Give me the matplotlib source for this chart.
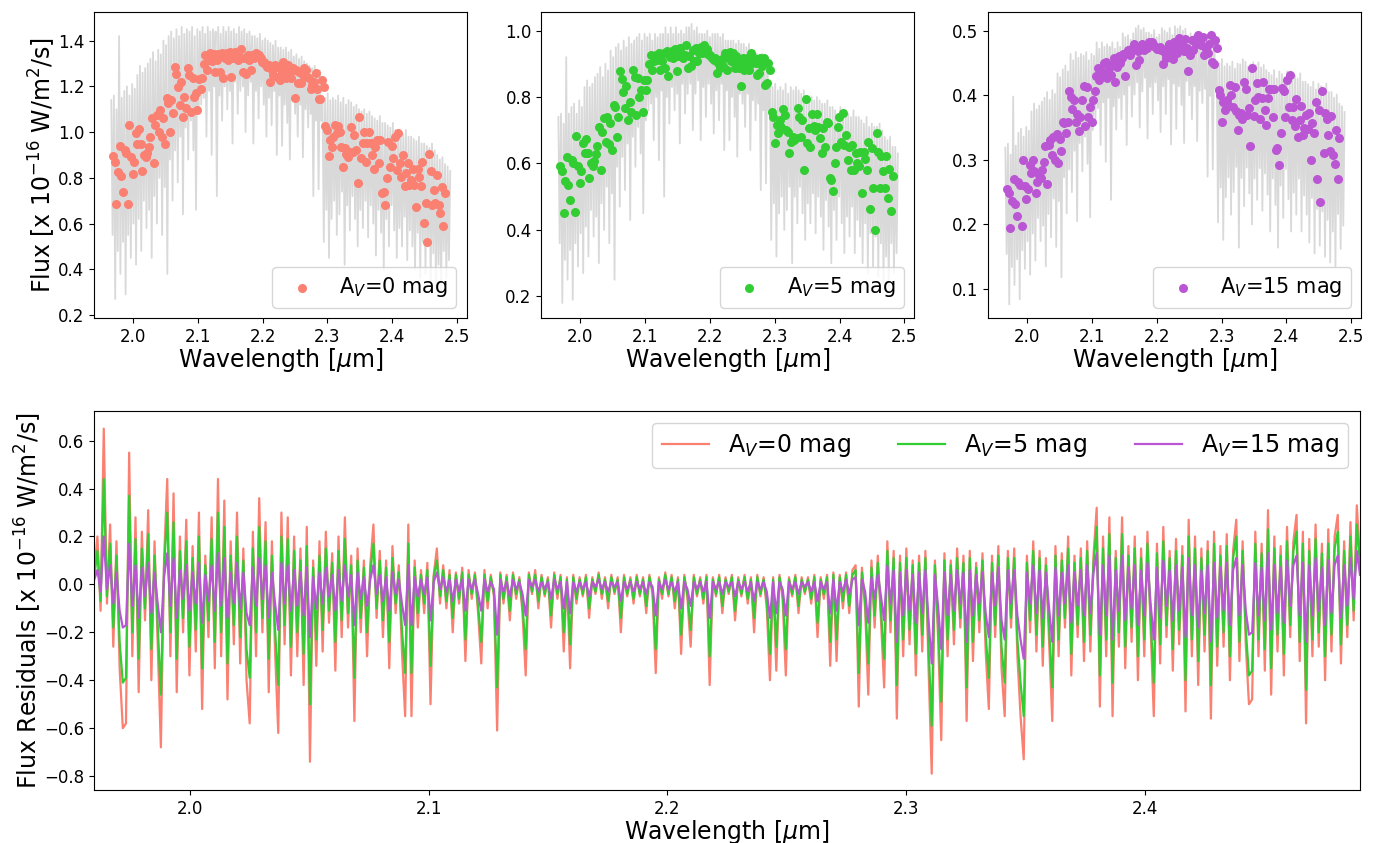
import numpy as np
import matplotlib
matplotlib.use("Agg")
import matplotlib.pyplot as plt

# colours of the three extinction cases
c0, c5, c15 = "salmon", "limegreen", "mediumorchid"
labels = ["A$_V$=0 mag", "A$_V$=5 mag", "A$_V$=15 mag"]

# ---- binned fluxes (points), one value per wavelength bin ----
flux0 = [0.897, 0.871, 0.684, 0.827, 0.94, 0.808, 0.74, 0.92, 0.91, 0.684,
         1.03, 0.89, 0.815, 0.868, 0.995, 0.948, 1.012, 0.948, 0.83, 0.90,
         0.893, 0.907, 0.936, 0.977, 1.06, 0.863, 1.031, 1.075, 1.002, 1.097,
         0.98, 1.06, 0.948, 1.148, 1.126, 0.999, 1.14, 1.082, 1.286, 1.254,
         1.196, 1.119, 1.22, 1.068, 1.155, 1.104, 1.279, 1.25, 1.089, 1.235,
         1.155, 1.17, 1.097, 1.231, 1.19, 1.235, 1.30, 1.337, 1.272, 1.315,
         1.345, 1.313, 1.342, 1.264, 1.315, 1.342, 1.264, 1.348, 1.235, 1.322,
         1.348, 1.315, 1.352, 1.24, 1.322, 1.352, 1.337, 1.315, 1.33, 1.362,
         1.264, 1.322, 1.254, 1.337, 1.315, 1.272, 1.337, 1.322, 1.345, 1.33,
         1.337, 1.322, 1.308, 1.308, 1.298, 1.286, 1.294, 1.22, 1.272, 1.25,
         1.294, 1.24, 1.286, 1.228, 1.264, 1.308, 1.272, 1.235, 1.294, 1.264,
         1.235, 1.279, 1.148, 1.272, 1.213, 1.264, 1.213, 1.25, 1.279, 1.272,
         1.24, 1.235, 1.19, 1.206, 1.22, 1.257, 1.19, 1.143, 1.143, 1.228,
         1.196, 1.027, 1.009, 0.897, 0.966, 0.936, 0.98, 1.031, 0.995, 1.027,
         1.002, 0.936, 0.849, 0.929, 0.904, 0.893, 0.914, 1.024, 0.914, 0.987,
         0.92, 0.776, 1.065, 0.885, 0.951, 1.002, 0.871, 0.951, 1.002, 0.951,
         0.90, 0.837, 0.936, 0.966, 0.863, 0.966, 0.735, 0.74, 0.681, 0.80,
         0.958, 0.849, 0.939, 0.885, 0.98, 0.834, 0.995, 0.863, 0.805, 0.90,
         0.764, 0.82, 0.863, 0.768, 0.79, 0.837, 0.768, 0.674, 0.837, 0.805,
         0.764, 0.871, 0.604, 0.691, 0.52, 0.904, 0.828, 0.681, 0.747, 0.688,
         0.812, 0.681, 0.645, 0.761, 0.589, 0.732]

flux5 = [0.591, 0.576, 0.451, 0.546, 0.621, 0.536, 0.491, 0.611, 0.601, 0.453,
         0.683, 0.591, 0.541, 0.576, 0.661, 0.631, 0.673, 0.631, 0.556, 0.601,
         0.591, 0.608, 0.629, 0.654, 0.711, 0.579, 0.696, 0.736, 0.666, 0.741,
         0.659, 0.721, 0.641, 0.776, 0.771, 0.679, 0.739, 0.877, 0.854, 0.814,
         0.766, 0.834, 0.731, 0.786, 0.756, 0.88, 0.86, 0.746, 0.857, 0.80,
         0.822, 0.756, 0.852, 0.822, 0.85, 0.90, 0.927, 0.88, 0.907, 0.927,
         0.912, 0.932, 0.88, 0.907, 0.934, 0.887, 0.94, 0.862, 0.92, 0.94,
         0.917, 0.944, 0.877, 0.924, 0.947, 0.932, 0.917, 0.927, 0.957, 0.887,
         0.922, 0.892, 0.942, 0.907, 0.947, 0.907, 0.932, 0.95, 0.932, 0.957,
         0.932, 0.944, 0.927, 0.927, 0.917, 0.912, 0.917, 0.872, 0.902, 0.887,
         0.914, 0.892, 0.932, 0.882, 0.917, 0.937, 0.907, 0.932, 0.887, 0.922,
         0.907, 0.887, 0.834, 0.917, 0.88, 0.90, 0.917, 0.882, 0.932, 0.902,
         0.917, 0.902, 0.867, 0.872, 0.917, 0.892, 0.917, 0.837, 0.842, 0.902,
         0.88, 0.756, 0.739, 0.661, 0.716, 0.691, 0.731, 0.711, 0.763, 0.746,
         0.701, 0.696, 0.631, 0.666, 0.681, 0.671, 0.676, 0.766, 0.739, 0.681,
         0.731, 0.579, 0.793, 0.663, 0.706, 0.651, 0.749, 0.713, 0.701, 0.749,
         0.711, 0.676, 0.631, 0.706, 0.651, 0.726, 0.723, 0.556, 0.551, 0.516,
         0.601, 0.651, 0.711, 0.741, 0.666, 0.751, 0.656, 0.686, 0.611, 0.651,
         0.581, 0.656, 0.581, 0.631, 0.601, 0.591, 0.636, 0.511, 0.636, 0.613,
         0.581, 0.666, 0.463, 0.646, 0.526, 0.40, 0.691, 0.636, 0.526, 0.623,
         0.576, 0.526, 0.623, 0.496, 0.583, 0.456, 0.561]

flux15 = [0.255, 0.248, 0.195, 0.236, 0.270, 0.232, 0.213, 0.266, 0.261, 0.198,
          0.30, 0.259, 0.239, 0.255, 0.292, 0.279, 0.299, 0.282, 0.248, 0.266,
          0.277, 0.272, 0.285, 0.296, 0.321, 0.263, 0.323, 0.331, 0.308, 0.336,
          0.30, 0.34, 0.295, 0.332, 0.313, 0.359, 0.357, 0.341, 0.358, 0.407,
          0.398, 0.378, 0.393, 0.359, 0.371, 0.344, 0.367, 0.393, 0.414, 0.352,
          0.413, 0.367, 0.382, 0.359, 0.392, 0.407, 0.43, 0.443, 0.424, 0.438,
          0.434, 0.45, 0.452, 0.426, 0.442, 0.431, 0.447, 0.457, 0.421, 0.444,
          0.461, 0.45, 0.457, 0.464, 0.43, 0.465, 0.47, 0.462, 0.468, 0.475,
          0.48, 0.447, 0.468, 0.455, 0.473, 0.48, 0.47, 0.475, 0.473, 0.483,
          0.478, 0.483, 0.48, 0.475, 0.471, 0.473, 0.475, 0.47, 0.448, 0.465,
          0.457, 0.475, 0.48, 0.469, 0.456, 0.483, 0.478, 0.465, 0.488, 0.475,
          0.483, 0.468, 0.487, 0.473, 0.438, 0.462, 0.486, 0.47, 0.487, 0.479,
          0.493, 0.486, 0.478, 0.491, 0.462, 0.471, 0.465, 0.48, 0.493, 0.452,
          0.449, 0.486, 0.473, 0.408, 0.40, 0.358, 0.389, 0.377, 0.393, 0.385,
          0.416, 0.40, 0.382, 0.413, 0.375, 0.346, 0.37, 0.372, 0.364, 0.421,
          0.409, 0.37, 0.38, 0.321, 0.442, 0.368, 0.393, 0.419, 0.398, 0.364,
          0.395, 0.42, 0.377, 0.354, 0.395, 0.409, 0.409, 0.366, 0.409, 0.315,
          0.318, 0.292, 0.342, 0.411, 0.406, 0.366, 0.424, 0.382, 0.431, 0.361,
          0.382, 0.352, 0.394, 0.336, 0.362, 0.384, 0.339, 0.349, 0.37, 0.347,
          0.372, 0.299, 0.357, 0.341, 0.389, 0.271, 0.377, 0.234, 0.406, 0.31,
          0.372, 0.364, 0.339, 0.313, 0.368, 0.308, 0.294, 0.346, 0.271, 0.334]

# ---- full resolution spectra (grey), 0.002 um sampling ----
spec0 = [1.14, 0.55, 1.16, 0.27, 1.10, 0.48, 1.42, 0.38, 1.15, 0.52,
         1.18, 0.29, 1.20, 0.55, 1.16, 0.45, 1.21, 0.60, 1.19, 0.42,
         1.25, 0.62, 1.29, 0.48, 1.26, 0.70, 1.28, 0.58, 1.30, 0.66,
         1.32, 0.45, 1.35, 0.72, 1.31, 0.60, 1.36, 0.80, 1.34, 0.55,
         1.40, 0.76, 1.38, 0.38, 1.42, 0.88, 1.44, 0.70, 1.41, 0.92,
         1.45, 0.78, 1.42, 0.98, 1.46, 0.64, 1.43, 1.02, 1.45, 0.88,
         1.44, 1.05, 1.46, 0.92, 1.42, 0.66, 1.45, 1.08, 1.44, 1.12,
         1.46, 1.15, 1.43, 0.98, 1.46, 1.18, 1.44, 0.90, 1.45, 1.20,
         1.44, 0.72, 1.46, 1.16, 1.43, 1.05, 1.46, 1.20, 1.44, 1.10,
         1.46, 1.18, 1.44, 0.95, 1.45, 1.22, 1.43, 1.08, 1.46, 1.18,
         1.44, 1.20, 1.45, 1.00, 1.43, 1.16, 1.44, 1.22, 1.42, 0.95,
         1.42, 1.18, 1.41, 1.06, 1.43, 1.20, 1.40, 1.12, 1.41, 0.98,
         1.40, 1.15, 1.39, 1.03, 1.38, 1.18, 1.40, 0.90, 1.37, 1.16,
         1.37, 0.94, 1.36, 1.12, 1.37, 1.04, 1.35, 0.88, 1.36, 1.14,
         1.33, 1.08, 1.34, 0.98, 1.32, 1.12, 1.33, 0.89, 1.31, 1.10,
         1.30, 1.02, 1.29, 1.08, 1.28, 0.72, 1.29, 1.05, 1.27, 0.75,
         1.27, 1.05, 1.16, 0.52, 1.15, 0.66, 1.17, 0.45, 1.14, 0.62,
         1.15, 0.70, 1.14, 0.55, 1.16, 0.64, 1.13, 0.74, 1.15, 0.42,
         1.12, 0.68, 1.14, 0.57, 1.13, 0.72, 1.11, 0.62, 1.12, 0.50,
         1.10, 0.66, 1.09, 0.58, 1.10, 0.70, 1.08, 0.54, 1.09, 0.68,
         1.07, 0.60, 1.06, 0.46, 1.05, 0.66, 1.07, 0.56, 1.04, 0.40,
         1.04, 0.62, 1.03, 0.50, 1.02, 0.68, 1.04, 0.57, 1.01, 0.45,
         1.01, 0.58, 1.00, 0.50, 0.99, 0.63, 1.01, 0.44, 0.98, 0.57,
         0.98, 0.50, 0.97, 0.40, 0.96, 0.56, 0.98, 0.36, 0.95, 0.52,
         0.95, 0.38, 0.94, 0.50, 0.93, 0.34, 0.95, 0.47, 0.92, 0.32,
         0.90, 0.42, 0.88, 0.30, 0.89, 0.48, 0.86, 0.36, 0.85, 0.44,
         0.83]

spec5 = [0.74, 0.36, 0.75, 0.18, 0.72, 0.31, 0.92, 0.25, 0.75, 0.34,
         0.77, 0.19, 0.78, 0.36, 0.75, 0.29, 0.79, 0.39, 0.77, 0.27,
         0.83, 0.41, 0.85, 0.32, 0.83, 0.46, 0.84, 0.38, 0.86, 0.44,
         0.87, 0.30, 0.89, 0.48, 0.86, 0.40, 0.90, 0.53, 0.88, 0.36,
         0.94, 0.51, 0.92, 0.25, 0.95, 0.59, 0.96, 0.47, 0.94, 0.62,
         0.97, 0.52, 0.95, 0.66, 0.98, 0.43, 0.96, 0.68, 0.97, 0.59,
         0.98, 0.71, 0.99, 0.63, 0.97, 0.45, 0.99, 0.73, 0.98, 0.76,
         0.99, 0.78, 0.97, 0.67, 0.99, 0.80, 0.98, 0.61, 0.99, 0.82,
         0.99, 0.50, 1.01, 0.80, 0.99, 0.72, 1.01, 0.83, 0.99, 0.76,
         1.01, 0.81, 0.99, 0.66, 1.00, 0.84, 0.99, 0.75, 1.01, 0.81,
         1.01, 0.84, 1.02, 0.70, 1.00, 0.81, 1.01, 0.85, 0.99, 0.67,
         0.99, 0.83, 0.99, 0.74, 1.00, 0.84, 0.98, 0.78, 0.99, 0.69,
         0.99, 0.82, 0.99, 0.73, 0.98, 0.84, 0.99, 0.64, 0.97, 0.82,
         0.97, 0.67, 0.97, 0.80, 0.97, 0.74, 0.96, 0.62, 0.97, 0.81,
         0.96, 0.78, 0.96, 0.71, 0.95, 0.81, 0.96, 0.64, 0.94, 0.79,
         0.94, 0.73, 0.93, 0.78, 0.92, 0.52, 0.93, 0.76, 0.91, 0.54,
         0.91, 0.76, 0.84, 0.37, 0.83, 0.48, 0.84, 0.32, 0.82, 0.45,
         0.83, 0.50, 0.82, 0.40, 0.84, 0.46, 0.81, 0.53, 0.83, 0.30,
         0.82, 0.50, 0.83, 0.42, 0.82, 0.53, 0.81, 0.45, 0.82, 0.37,
         0.80, 0.48, 0.80, 0.42, 0.80, 0.51, 0.79, 0.39, 0.80, 0.50,
         0.79, 0.44, 0.78, 0.34, 0.78, 0.49, 0.79, 0.41, 0.77, 0.30,
         0.77, 0.46, 0.76, 0.37, 0.75, 0.50, 0.77, 0.42, 0.75, 0.33,
         0.76, 0.44, 0.75, 0.38, 0.74, 0.47, 0.76, 0.33, 0.74, 0.43,
         0.74, 0.38, 0.73, 0.30, 0.72, 0.42, 0.74, 0.27, 0.71, 0.39,
         0.72, 0.29, 0.71, 0.38, 0.71, 0.26, 0.72, 0.36, 0.70, 0.24,
         0.68, 0.32, 0.67, 0.23, 0.68, 0.36, 0.65, 0.27, 0.65, 0.33,
         0.63]

spec15 = [0.319, 0.154, 0.325, 0.076, 0.308, 0.134, 0.398, 0.106, 0.322, 0.146,
          0.342, 0.084, 0.348, 0.160, 0.336, 0.131, 0.351, 0.174, 0.345, 0.122,
          0.375, 0.186, 0.387, 0.144, 0.378, 0.210, 0.384, 0.174, 0.390, 0.198,
          0.396, 0.135, 0.405, 0.216, 0.393, 0.180, 0.408, 0.240, 0.402, 0.165,
          0.434, 0.236, 0.428, 0.118, 0.440, 0.273, 0.446, 0.217, 0.437, 0.285,
          0.464, 0.250, 0.454, 0.314, 0.467, 0.205, 0.458, 0.326, 0.464, 0.282,
          0.461, 0.336, 0.467, 0.294, 0.454, 0.211, 0.464, 0.346, 0.461, 0.358,
          0.482, 0.380, 0.472, 0.323, 0.482, 0.389, 0.475, 0.297, 0.479, 0.396,
          0.475, 0.238, 0.482, 0.383, 0.472, 0.347, 0.482, 0.396, 0.475, 0.363,
          0.496, 0.401, 0.490, 0.323, 0.493, 0.415, 0.486, 0.367, 0.496, 0.401,
          0.504, 0.420, 0.508, 0.350, 0.501, 0.406, 0.504, 0.427, 0.497, 0.333,
          0.497, 0.413, 0.494, 0.371, 0.501, 0.420, 0.490, 0.392, 0.494, 0.343,
          0.504, 0.414, 0.500, 0.371, 0.497, 0.425, 0.504, 0.324, 0.493, 0.418,
          0.507, 0.348, 0.503, 0.414, 0.507, 0.385, 0.500, 0.326, 0.503, 0.422,
          0.492, 0.400, 0.496, 0.363, 0.488, 0.414, 0.492, 0.329, 0.485, 0.407,
          0.494, 0.388, 0.490, 0.410, 0.486, 0.274, 0.490, 0.399, 0.483, 0.285,
          0.495, 0.410, 0.452, 0.203, 0.449, 0.257, 0.456, 0.176, 0.445, 0.242,
          0.449, 0.273, 0.445, 0.215, 0.452, 0.250, 0.441, 0.289, 0.449, 0.164,
          0.448, 0.272, 0.456, 0.228, 0.452, 0.288, 0.444, 0.248, 0.448, 0.200,
          0.451, 0.271, 0.447, 0.238, 0.451, 0.287, 0.443, 0.221, 0.447, 0.279,
          0.439, 0.246, 0.435, 0.189, 0.431, 0.271, 0.439, 0.230, 0.426, 0.164,
          0.437, 0.260, 0.433, 0.210, 0.428, 0.286, 0.437, 0.239, 0.424, 0.189,
          0.434, 0.249, 0.430, 0.215, 0.426, 0.271, 0.434, 0.189, 0.421, 0.245,
          0.421, 0.215, 0.417, 0.172, 0.413, 0.241, 0.421, 0.155, 0.409, 0.224,
          0.418, 0.167, 0.414, 0.220, 0.409, 0.150, 0.418, 0.207, 0.405, 0.141,
          0.405, 0.189, 0.396, 0.135, 0.401, 0.216, 0.387, 0.162, 0.383, 0.198,
          0.374]

# ---- flux residuals (observed - model), same sampling for the three cases ----
res0 = [.05, .20, -.11, .65, -.08, .25, -.26, .18, -.35, -.60,
        -.58, .55, -.30, .28, -.45, .22, -.15, .31, -.40, .18,
        -.25, -.68, .10, .44, -.30, .38, -.45, .20, -.20, .27,
        -.38, .16, -.28, .30, -.52, .12, -.22, .28, -.35, .44,
        -.30, .35, -.48, .18, -.25, .30, -.33, .15, -.40, -.58,
        .22, -.30, .36, -.20, .26, -.45, .18, -.28, -.62, .30,
        -.25, .28, -.38, .20, -.30, .15, -.42, .24, -.74, .10,
        -.34, .18, -.28, .22, -.16, .13, -.36, .20, -.22, .28,
        -.18, .12, -.57, .15, -.20, .10, -.30, .08, .25, -.14,
        .14, -.22, .10, -.35, .16, -.12, .08, -.28, -.55, .25,
        -.55, .10, -.18, .06, -.12, .09, -.50, .04, .15, -.08,
        .08, -.10, .06, -.20, .05, -.08, .07, -.32, .06, -.06,
        .05, -.12, -.33, .06, -.10, .04, -.05, -.61, .05, -.08,
        .04, -.15, .05, -.06, .03, -.12, -.38, .05, -.04, .06,
        -.10, .04, -.05, .03, -.18, .05, -.06, .04, -.28, .03,
        -.35, .04, -.08, .03, -.05, .04, -.14, .03, -.04, .05,
        -.06, .03, -.10, .04, -.04, .03, -.20, .04, -.05, .03,
        -.08, .04, -.05, .03, -.12, .04, -.04, -.37, .03, -.06,
        .05, -.05, .04, -.10, .03, -.29, .04, -.06, -.26, .04,
        -.05, .03, -.08, .04, -.42, .03, -.05, .04, -.12, .03,
        -.04, .04, -.15, .03, -.05, .04, -.08, .03, -.20, .04,
        -.05, .03, -.10, -.40, .03, -.36, .04, -.06, -.38, .03,
        -.05, .04, -.12, .03, -.04, .03, -.08, .04, -.22, .03,
        -.06, .04, -.34, .05, -.32, .04, -.10, .05, -.12, .06,
        .08, -.51, .07, -.10, -.46, .10, -.18, .12, -.15, -.43,
        .18, -.20, .14, -.56, .12, -.30, .15, -.25, .10, -.38,
        .12, -.28, .14, -.35, -.79, .10, -.22, -.65, .13, -.30,
        .10, -.25, .15, -.18, .12, -.57, .14, -.32, .09, -.20,
        .13, -.28, -.52, .12, -.22, .16, -.35, -.55, .14, -.18,
        .15, -.30, -.55, -.73, .12, -.20, .18, -.28, .14, -.34,
        .11, -.24, -.57, .16, -.30, .13, -.18, .20, -.38, .12,
        -.22, .15, -.32, .18, -.28, .12, .32, -.51, .20, -.30,
        .28, -.55, .14, -.26, .28, -.35, .16, -.24, .20, -.40,
        .15, -.30, .22, -.18, -.55, .17, -.33, .24, -.22, .14,
        -.36, .19, -.25, .16, -.53, .27, -.30, .20, -.42, .15,
        -.28, .18, -.56, .22, -.34, .16, -.26, .21, -.40, .14,
        .27, -.32, .18, -.25, -.50, -.48, .22, -.30, .17, -.36,
        .31, -.46, .20, -.28, .16, -.38, .24, -.22, .18, .29,
        -.32, .22, -.58, .19, -.30, .25, -.26, .17, -.40, .23,
        -.28, .20, .29, -.33, .18, -.22, .26, -.15, .33, .10]

res5 = [.03, .14, -.07, .44, -.05, .17, -.18, .12, -.24, -.41,
        -.39, .37, -.20, .19, -.31, .15, -.10, .21, -.27, .12,
        -.17, -.46, .07, .30, -.20, .26, -.31, .14, -.14, .18,
        -.26, .11, -.19, .20, -.35, .08, -.15, .19, -.24, .30,
        -.20, .24, -.33, .12, -.17, .20, -.22, .10, -.27, -.39,
        .15, -.20, .24, -.14, .18, -.31, .12, -.19, -.42, .20,
        -.17, .19, -.26, .14, -.20, .10, -.29, .16, -.50, .07,
        -.23, .12, -.19, .15, -.11, .09, -.24, .14, -.15, .19,
        -.12, .08, -.39, .10, -.14, .07, -.20, .05, .17, -.10,
        .10, -.15, .07, -.24, .11, -.08, .05, -.19, -.37, .17,
        -.37, .07, -.12, .04, -.08, .06, -.34, .03, .10, -.05,
        .06, -.07, .04, -.14, .04, -.06, .05, -.23, .04, -.04,
        .04, -.09, -.24, .04, -.07, .03, -.04, -.43, .04, -.06,
        .03, -.11, .04, -.04, .02, -.09, -.27, .04, -.03, .04,
        -.07, .03, -.04, .02, -.13, .04, -.04, .03, -.20, .02,
        -.25, .03, -.06, .02, -.04, .03, -.10, .02, -.03, .04,
        -.04, .02, -.07, .03, -.03, .02, -.14, .03, -.04, .02,
        -.06, .03, -.04, .02, -.09, .03, -.03, -.27, .02, -.04,
        .04, -.04, .03, -.07, .02, -.21, .03, -.04, -.19, .03,
        -.04, .02, -.06, .03, -.30, .02, -.04, .03, -.09, .02,
        -.03, .03, -.11, .02, -.04, .03, -.06, .02, -.14, .03,
        -.04, .02, -.07, -.29, .02, -.26, .03, -.04, -.27, .02,
        -.04, .03, -.09, .02, -.03, .02, -.06, .03, -.16, .02,
        -.04, .03, -.24, .04, -.23, .03, -.07, .04, -.09, .04,
        .06, -.37, .05, -.07, -.33, .07, -.13, .09, -.11, -.31,
        .14, -.15, .11, -.42, .09, -.23, .11, -.19, .08, -.29,
        .09, -.21, .11, -.26, -.59, .08, -.17, -.49, .10, -.23,
        .08, -.19, .11, -.14, .09, -.43, .11, -.24, .07, -.15,
        .10, -.21, -.39, .09, -.17, .12, -.26, -.41, .11, -.14,
        .11, -.23, -.41, -.55, .09, -.15, .14, -.21, .11, -.26,
        .08, -.18, -.43, .12, -.23, .10, -.14, .15, -.29, .09,
        -.17, .11, -.24, .14, -.21, .09, .24, -.38, .15, -.23,
        .21, -.41, .11, -.20, .21, -.26, .12, -.18, .15, -.30,
        .11, -.23, .17, -.14, -.41, .13, -.25, .18, -.17, .11,
        -.27, .14, -.19, .12, -.40, .20, -.23, .15, -.32, .11,
        -.21, .14, -.42, .17, -.26, .12, -.20, .16, -.30, .11,
        .20, -.24, .14, -.19, -.38, -.36, .17, -.23, .13, -.27,
        .23, -.35, .15, -.21, .12, -.29, .18, -.17, .14, .22,
        -.24, .17, -.44, .14, -.23, .19, -.20, .13, -.30, .17,
        -.21, .15, .22, -.25, .14, -.17, .20, -.11, .25, .08]

res15 = [.02, .06, -.03, .20, -.02, .08, -.08, .05, -.11, -.18,
         -.17, .17, -.09, .08, -.14, .07, -.05, .09, -.12, .05,
         -.08, -.20, .03, .13, -.09, .11, -.14, .06, -.06, .08,
         -.11, .05, -.08, .09, -.16, .04, -.07, .08, -.11, .13,
         -.09, .11, -.14, .05, -.08, .09, -.10, .05, -.12, -.17,
         .07, -.09, .11, -.06, .08, -.14, .05, -.08, -.19, .09,
         -.08, .08, -.11, .06, -.09, .05, -.13, .07, -.22, .03,
         -.10, .05, -.08, .07, -.05, .04, -.11, .06, -.07, .08,
         -.05, .04, -.17, .05, -.06, .03, -.09, .02, .08, -.04,
         .04, -.07, .03, -.11, .05, -.04, .02, -.08, -.17, .08,
         -.17, .03, -.05, .02, -.04, .03, -.15, .01, .05, -.02,
         .03, -.03, .02, -.07, .02, -.03, .02, -.11, .02, -.02,
         .02, -.04, -.11, .02, -.03, .01, -.02, -.21, .02, -.03,
         .01, -.05, .02, -.02, .01, -.04, -.13, .02, -.01, .02,
         -.03, .01, -.02, .01, -.06, .02, -.02, .01, -.10, .01,
         -.12, .01, -.03, .01, -.02, .01, -.05, .01, -.01, .02,
         -.02, .01, -.03, .01, -.01, .01, -.07, .01, -.02, .01,
         -.03, .01, -.02, .01, -.04, .01, -.01, -.13, .01, -.02,
         .02, -.02, .01, -.03, .01, -.10, .01, -.02, -.09, .01,
         -.02, .01, -.03, .01, -.14, .01, -.02, .01, -.04, .01,
         -.01, .01, -.05, .01, -.02, .01, -.03, .01, -.07, .01,
         -.02, .01, -.03, -.14, .01, -.12, .01, -.02, -.13, .01,
         -.02, .01, -.04, .01, -.01, .01, -.03, .01, -.07, .01,
         -.02, .01, -.12, .02, -.11, .01, -.03, .02, -.04, .02,
         .03, -.17, .02, -.03, -.16, .03, -.06, .04, -.05, -.15,
         .08, -.08, .06, -.24, .05, -.13, .06, -.11, .04, -.16,
         .05, -.12, .06, -.15, -.33, .04, -.09, -.27, .05, -.13,
         .04, -.11, .06, -.08, .05, -.24, .06, -.13, .04, -.08,
         .05, -.12, -.22, .05, -.09, .07, -.15, -.23, .06, -.08,
         .06, -.13, -.23, -.31, .05, -.08, .08, -.12, .06, -.14,
         .05, -.10, -.24, .07, -.13, .05, -.08, .08, -.16, .05,
         -.09, .06, -.13, .08, -.12, .05, .13, -.21, .08, -.13,
         .12, -.23, .06, -.11, .12, -.15, .07, -.10, .08, -.17,
         .06, -.13, .09, -.08, -.23, .07, -.14, .10, -.09, .06,
         -.15, .08, -.11, .07, -.22, .11, -.13, .08, -.18, .06,
         -.12, .08, -.24, .09, -.14, .07, -.11, .09, -.17, .06,
         .11, -.13, .08, -.11, -.21, -.20, .09, -.13, .07, -.15,
         .13, -.19, .08, -.12, .07, -.16, .10, -.09, .08, .12,
         -.13, .09, -.24, .08, -.13, .11, -.11, .07, -.17, .10,
         -.12, .08, .12, -.14, .08, -.09, .11, -.06, .14, .04]

# wavelength grids [um]
wl_spec = np.linspace(1.966, 2.490, len(spec0))
wl_res = np.linspace(1.96, 2.49, len(res0))

plt.rcParams['font.family'] = 'DejaVu Sans'
fig = plt.figure(figsize=(13.74, 8.43), dpi=100)

top_pos = [[0.0686, 0.6228, 0.2711, 0.3626],
           [0.3940, 0.6228, 0.2715, 0.3626],
           [0.7193, 0.6228, 0.2713, 0.3626]]
ylims = [(0.187, 1.524), (0.135, 1.055), (0.055, 0.5285)]
yticks = [np.arange(0.2, 1.41, 0.2), np.arange(0.2, 1.01, 0.2), np.arange(0.1, 0.51, 0.1)]
specs = [spec0, spec5, spec15]
fluxes = [flux0, flux5, flux15]
cols = [c0, c5, c15]

for i in range(3):
    ax = fig.add_axes(top_pos[i])
    ax.plot(wl_spec, specs[i], color="#d9d9d9", lw=1.3, zorder=1)
    wl_bin = np.linspace(1.969, 2.482, len(fluxes[i]))
    ax.scatter(wl_bin, fluxes[i], s=30, color=cols[i], label=labels[i], zorder=2)
    ax.set_xlim(1.9397, 2.5155)
    ax.set_ylim(ylims[i])
    ax.set_yticks(yticks[i])
    ax.set_xticks([2.0, 2.1, 2.2, 2.3, 2.4, 2.5])
    ax.tick_params(labelsize=12)
    ax.set_xlabel("Wavelength [$\\mu$m]", fontsize=17, labelpad=0)
    if i == 0:
        ax.set_ylabel("Flux [x 10$^{-16}$ W/m$^2$/s]", fontsize=17, labelpad=0)
    ax.legend(loc="lower right", fontsize=15)

ax = fig.add_axes([0.0686, 0.0629, 0.9212, 0.4499])
ax.plot(wl_res, res0, color=c0, lw=1.6, label=labels[0])
ax.plot(wl_res, res5, color=c5, lw=1.6, label=labels[1])
ax.plot(wl_res, res15, color=c15, lw=1.6, label=labels[2])
ax.set_xlim(1.96, 2.49)
ax.set_ylim(-0.858, 0.725)
ax.set_xticks([2.0, 2.1, 2.2, 2.3, 2.4])
ax.tick_params(labelsize=12)
ax.set_xlabel("Wavelength [$\\mu$m]", fontsize=17, labelpad=0)
ax.set_ylabel("Flux Residuals [x 10$^{-16}$ W/m$^2$/s]", fontsize=17, labelpad=0)
ax.legend(loc="upper right", ncol=3, fontsize=17)

fig.savefig("out.png", dpi=100)
